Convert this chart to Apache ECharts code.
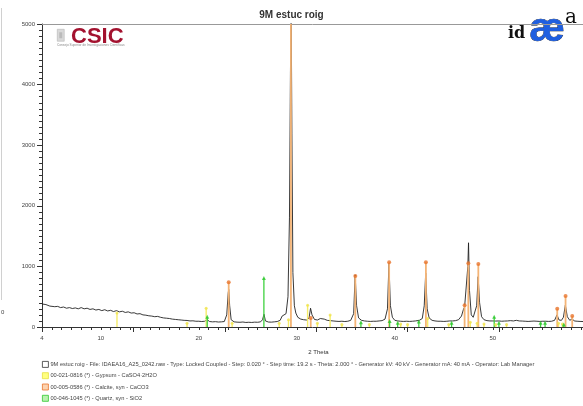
<!DOCTYPE html>
<html><head><meta charset="utf-8">
<script src="https://cdn.jsdelivr.net/npm/echarts@6/dist/echarts.min.js"></script>
<style>html,body{margin:0;padding:0;background:#fff}#c{width:583px;height:406px}</style>
</head><body><div id="c"></div>
<script>
// ---- data ----
const chartTitle = '9M estuc roig';
const xAxisName = '2 Theta';
const xTickLabels = [4, 10, 20, 30, 40, 50];
const scanName = '9M estuc roig - File: IDAEA16_A25_0242.raw - Type: Locked Coupled - Step: 0.020 ° - Step time: 19.2 s - Theta: 2.000 ° - Generator kV: 40 kV - Generator mA: 40 mA - Operator: Lab Manager';
const gypsumName = '00-021-0816 (*) - Gypsum - CaSO4·2H2O';
const calciteName = '00-005-0586 (*) - Calcite, syn - CaCO3';
const quartzName = '00-046-1045 (*) - Quartz, syn - SiO2';

const twoTheta = [4.0,4.2,4.4,4.6,4.8,5.0,5.3,5.6,5.9,6.2,6.5,6.8,7.1,7.4,7.7,8.0,8.3,8.6,8.9,9.2,9.5,9.8,10.1,10.4,10.7,11.0,11.3,11.6,11.9,12.2,12.5,12.8,13.1,13.4,13.7,14.0,14.3,14.6,14.9,15.2,15.5,15.8,16.1,16.4,16.7,17.0,17.3,17.6,17.9,18.2,18.5,18.8,19.1,19.4,19.7,20.0,20.3,20.6,20.85,21.1,21.4,21.7,22.0,22.3,22.6,22.85,23.0,23.05,23.15,23.3,23.6,23.9,24.2,24.5,24.8,25.1,25.4,25.7,26.0,26.3,26.5,26.65,26.8,27.1,27.4,27.7,28.0,28.3,28.5,28.7,28.9,29.1,29.25,29.35,29.42,29.5,29.6,29.75,29.9,30.1,30.4,30.7,31.0,31.25,31.4,31.55,31.8,32.1,32.4,32.6,32.8,33.1,33.4,33.7,34.0,34.3,34.6,34.9,35.2,35.5,35.8,35.95,36.1,36.3,36.6,36.9,37.2,37.5,37.8,38.1,38.4,38.7,39.0,39.25,39.4,39.55,39.75,40.0,40.3,40.6,40.9,41.2,41.5,41.8,42.1,42.5,42.8,43.0,43.15,43.3,43.5,43.8,44.1,44.4,44.7,45.0,45.3,45.6,45.9,46.2,46.5,46.8,47.0,47.12,47.3,47.45,47.52,47.62,47.8,48.0,48.2,48.35,48.5,48.65,48.85,49.1,49.4,49.7,50.0,50.3,50.6,50.9,51.2,51.5,51.8,52.1,52.4,52.7,53.0,53.3,53.6,53.9,54.2,54.5,54.8,55.1,55.4,55.7,56.0,56.3,56.55,56.75,57.0,57.2,57.4,57.6,57.85,58.1,58.3,58.6,58.9,59.2];
const counts = [380,360,370,350,345,355,335,340,320,330,310,320,305,315,300,320,300,310,290,300,280,290,270,285,265,275,255,270,250,260,240,250,230,235,215,220,200,195,185,180,170,175,160,150,145,140,130,125,120,115,110,108,100,102,95,95,90,95,120,90,85,88,82,85,90,200,560,620,350,120,85,80,78,82,75,78,75,80,78,85,120,210,100,82,80,85,90,110,180,150,220,500,1800,4200,5400,3200,900,350,230,160,130,120,115,150,310,200,125,115,140,165,130,110,105,100,95,92,95,90,95,110,220,860,350,150,110,100,95,92,95,95,100,105,130,300,1050,350,160,110,100,95,92,95,92,95,100,110,140,350,890,300,150,110,100,95,95,92,95,100,100,105,120,180,290,330,320,1000,1390,600,200,160,180,350,830,400,170,120,105,100,100,98,100,95,98,100,105,100,110,100,98,95,92,95,98,95,92,95,95,92,95,110,200,115,110,160,360,170,110,135,100,95,92,90];

const gypsumPos = [11.65,18.8,20.75,23.4,28.2,29.15,31.1,32.1,33.4,34.6,37.4,40.6,41.3,43.35,45.5,47.7,48.4,49.1,50.3,51.4,56.7,57.1];
const gypsumInt = [230,60,310,60,60,120,360,60,200,40,40,50,40,140,40,80,60,50,40,40,60,50];
const calcitePos = [23.05,29.4,31.42,35.97,39.42,43.17,47.12,47.5,48.52,56.57,57.42,58.1];
const calciteInt = [740,5000,150,840,1070,1070,360,1050,1040,300,510,180];
const quartzPos = [20.86,26.64,36.54,39.47,40.29,42.45,45.79,50.14,50.62,54.87,55.33,57.24];
const quartzInt = [170,810,80,100,70,90,70,170,70,70,70,40];

// ---- build ----
const zip = (a, b) => a.map((v, i) => [v, b[i]]);
const FONT = 'Liberation Sans, Arial, sans-serif';
function stickSeries(name, pos, ints, color, w) {
  return {
    name, type: 'custom', xAxisIndex: 0, yAxisIndex: 0, z: 3, clip: true,
    data: zip(pos, ints),
    renderItem: (params, api) => {
      const top = api.coord([api.value(0), api.value(1)]);
      const base = api.coord([api.value(0), 0]);
      return { type: 'line', shape: { x1: top[0], y1: top[1], x2: base[0], y2: base[1] }, style: { stroke: color, lineWidth: w } };
    }
  };
}
function markerSeries(name, pos, ints, color, symbol, size) {
  return { name, type: 'scatter', xAxisIndex: 0, yAxisIndex: 0, z: 4, data: zip(pos, ints).filter(d => d[1] < 5000),
    symbol, symbolSize: size, itemStyle: { color }, silent: true };
}

const TICK = '#333';
const chart = echarts.init(document.getElementById('c'), null, { renderer: 'canvas' });
const xMin = 4, xMax = 59.2;
chart.setOption({
  animation: false,
  textStyle: { fontFamily: FONT },
  title: { text: chartTitle, left: 'center', top: 5, textStyle: { fontSize: 10, fontWeight: 'bold', color: '#333', fontFamily: FONT } },
  grid: { left: 42, right: 0, top: 24, bottom: 79, containLabel: false },
  legend: {
    orient: 'vertical', left: 42, top: 361, padding: 0, itemGap: 4.5, itemWidth: 6, itemHeight: 6,
    textStyle: { fontSize: 5.7, color: '#444', padding: [0, 0, 0, -3], fontFamily: FONT },
    data: [
      { name: scanName, icon: 'rect', itemStyle: { color: '#fff', borderColor: '#333', borderWidth: 0.8 } },
      { name: gypsumName, icon: 'rect', itemStyle: { color: '#ffff80', borderColor: '#e6e040', borderWidth: 0.8 } },
      { name: calciteName, icon: 'rect', itemStyle: { color: '#fcd3b0', borderColor: '#e8742c', borderWidth: 0.8 } },
      { name: quartzName, icon: 'rect', itemStyle: { color: '#b9f2b0', borderColor: '#2ec82e', borderWidth: 0.8 } }
    ]
  },
  xAxis: [
    { type: 'value', min: xMin, max: xMax, position: 'bottom',
      name: xAxisName, nameLocation: 'middle', nameGap: 22,
      nameTextStyle: { fontSize: 6, color: '#333', padding: [0, 0, 0, 12] },
      axisLine: { show: true, lineStyle: { color: TICK, width: 1 } },
      axisTick: { show: false },
      axisLabel: { show: true, customValues: xTickLabels, fontSize: 6, color: '#444', margin: 8 },
      splitLine: { show: false } },
    { type: 'value', min: 0, max: xMax, interval: 10, position: 'bottom', show: true,
      axisLine: { show: false }, axisTick: { show: true, length: 5, lineStyle: { color: TICK, width: 1 } },
      axisLabel: { show: false }, splitLine: { show: false } },
    { type: 'value', min: xMin, max: xMax, interval: 1, position: 'bottom', show: true,
      axisLine: { show: false }, axisTick: { show: true, length: 3, lineStyle: { color: TICK, width: 1 } },
      axisLabel: { show: false }, splitLine: { show: false } },
    { type: 'value', min: xMin, max: xMax, position: 'top',
      axisLine: { show: true, lineStyle: { color: '#999', width: 1 } }, axisTick: { show: false },
      axisLabel: { show: false }, splitLine: { show: false } }
  ],
  yAxis: [
    { type: 'value', min: 0, max: 5000, interval: 1000, position: 'left',
      axisLine: { show: true, lineStyle: { color: TICK, width: 1 } },
      axisTick: { show: true, length: 5, lineStyle: { color: TICK, width: 1 } },
      minorTick: { show: true, splitNumber: 10, length: 3, lineStyle: { color: TICK, width: 1 } },
      axisLabel: { fontSize: 6, color: '#444', margin: 7, formatter: v => String(v) },
      splitLine: { show: false } }
  ],
  series: [
    { name: scanName, type: 'line', xAxisIndex: 0, yAxisIndex: 0, z: 2, data: zip(twoTheta, counts),
      showSymbol: false, symbol: 'none', lineStyle: { color: '#222', width: 0.9 }, itemStyle: { color: '#222' }, clip: true },
    stickSeries(gypsumName, gypsumPos, gypsumInt, '#f5ec6a', 1.4),
    stickSeries(calciteName, calcitePos, calciteInt, '#f4b476', 1.8),
    stickSeries(quartzName, quartzPos, quartzInt, '#3fd13f', 1.3),
    markerSeries(gypsumName, gypsumPos, gypsumInt, '#f0e44a', 'circle', 3),
    markerSeries(calciteName, calcitePos, calciteInt, '#e8742c', 'circle', 4),
    markerSeries(quartzName, quartzPos, quartzInt, '#2ec82e', 'triangle', 4)
  ],
  graphic: [
    { type: 'line', shape: { x1: 1.5, y1: 8, x2: 1.5, y2: 300 }, style: { stroke: '#d0d0d0', lineWidth: 1 }, silent: true },
    { type: 'text', left: 1, top: 309, style: { text: '0', fontSize: 6, fill: '#444', fontFamily: FONT } },
    // CSIC logo
    { type: 'group', left: 57, top: 29, children: [
      { type: 'rect', shape: { x: 0, y: 0, width: 7, height: 12 }, style: { fill: '#d9d9d9', stroke: '#aaa', lineWidth: 0.5 } },
      { type: 'rect', shape: { x: 2, y: 3, width: 3, height: 6 }, style: { fill: '#bbb' } }
    ] },
    { type: 'text', left: 71, top: 26, style: { text: 'CSIC', fontSize: 22, fontWeight: 'bold', fill: '#a3122f', fontFamily: FONT } },
    { type: 'text', left: 57, top: 44, style: { text: 'Consejo Superior de Investigaciones Científicas', fontSize: 3.2, fill: '#888', fontFamily: FONT } },
    // IDAEA logo
    { type: 'text', left: 508, top: 26, style: { text: 'id', fontSize: 16, fontWeight: 'bold', fill: '#111', fontFamily: 'DejaVu Serif, serif' } },
    { type: 'text', left: 529, top: 10, style: { text: 'æ', fontSize: 40, fontWeight: 'bold', fontFamily: FONT,
      fill: '#1f5fe0', stroke: '#000', lineWidth: 0.5 } },
    { type: 'text', left: 565, top: 8, style: { text: 'a', fontSize: 20, fill: '#111', fontFamily: 'DejaVu Serif, serif' } }
  ]
});
</script></body></html>
